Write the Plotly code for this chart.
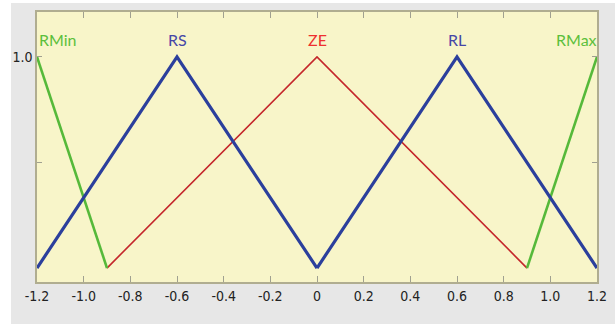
import plotly.graph_objects as go

# Membership function names and breakpoints
names = ["RMin", "RS", "ZE", "RL", "RMax"]
x_pts = {
    "RMin": [-1.2, -0.9],
    "RS": [-1.2, -0.6, 0.0],
    "ZE": [-0.9, 0.0, 0.9],
    "RL": [0.0, 0.6, 1.2],
    "RMax": [0.9, 1.2],
}
y_pts = {
    "RMin": [1.0, 0.0],
    "RS": [0.0, 1.0, 0.0],
    "ZE": [0.0, 1.0, 0.0],
    "RL": [0.0, 1.0, 0.0],
    "RMax": [0.0, 1.0],
}
label_x = {"RMin": -1.11, "RS": -0.6, "ZE": 0.0, "RL": 0.6, "RMax": 1.11}
label_y = 1.085

x_ticks = [-1.2, -1.0, -0.8, -0.6, -0.4, -0.2, 0.0, 0.2, 0.4, 0.6, 0.8, 1.0, 1.2]
x_tick_text = ["-1.2", "-1.0", "-0.8", "-0.6", "-0.4", "-0.2", "0", "0.2", "0.4", "0.6", "0.8", "1.0", "1.2"]
y_ticks = [0.5, 1.0]
y_tick_text = ["", "1.0"]

line_colors = {"RMin": "#56b93a", "RS": "#2b3f9c", "ZE": "#c4262b", "RL": "#2b3f9c", "RMax": "#56b93a"}
line_widths = {"RMin": 2.6, "RS": 3.2, "ZE": 1.6, "RL": 3.2, "RMax": 2.6}
label_colors = {"RMin": "#5cbf3c", "RS": "#4646a6", "ZE": "#ee3030", "RL": "#4646a6", "RMax": "#5cbf3c"}

tick_font = dict(family="DejaVu Sans Condensed, Liberation Sans Narrow, sans-serif", size=14, color="#222222")

fig = go.Figure()
for n in ["ZE", "RMin", "RMax", "RS", "RL"]:
    fig.add_trace(go.Scatter(
        x=x_pts[n], y=y_pts[n], mode="lines",
        line=dict(color=line_colors[n], width=line_widths[n]),
        showlegend=False, hoverinfo="skip",
    ))

for n in names:
    fig.add_annotation(
        x=label_x[n], y=label_y, text=n, showarrow=False,
        font=dict(family="Lato, Open Sans, sans-serif", size=16, color=label_colors[n]),
        xanchor="center", yanchor="middle",
    )

fig.update_layout(
    width=615, height=324,
    margin=dict(l=37, r=18, t=12, b=42),
    paper_bgcolor="#e7e7e7",
    plot_bgcolor="#f8f5c9",
    shapes=[
        dict(type="rect", xref="paper", yref="paper", x0=-37/560, x1=-26/560, y0=-0.2, y1=1.2,
             fillcolor="white", line=dict(width=0), layer="below"),
        dict(type="rect", xref="paper", yref="paper", x0=-0.1, x1=1.1, y0=1 + 9/270, y1=1 + 13/270,
             fillcolor="white", line=dict(width=0), layer="below"),
    ],
)
fig.update_xaxes(
    range=[-1.2, 1.2], tickvals=x_ticks, ticktext=x_tick_text, automargin=False,
    ticks="inside", ticklen=6, tickcolor="#a0a090", mirror="ticks",
    showline=True, linecolor="#b0ad90", linewidth=1.5, showgrid=False, zeroline=False,
    tickfont=tick_font,
)
fig.update_yaxes(
    range=[-0.066, 1.213], tickvals=y_ticks, ticktext=y_tick_text, automargin=False,
    ticks="inside", ticklen=5, tickcolor="#a0a090", mirror="ticks",
    showline=True, linecolor="#b0ad90", linewidth=1.5, showgrid=False, zeroline=False,
    tickfont=tick_font,
)

fig.write_html("out.html", config={"displayModeBar": False},
               post_script="document.body.style.margin='0px';")
